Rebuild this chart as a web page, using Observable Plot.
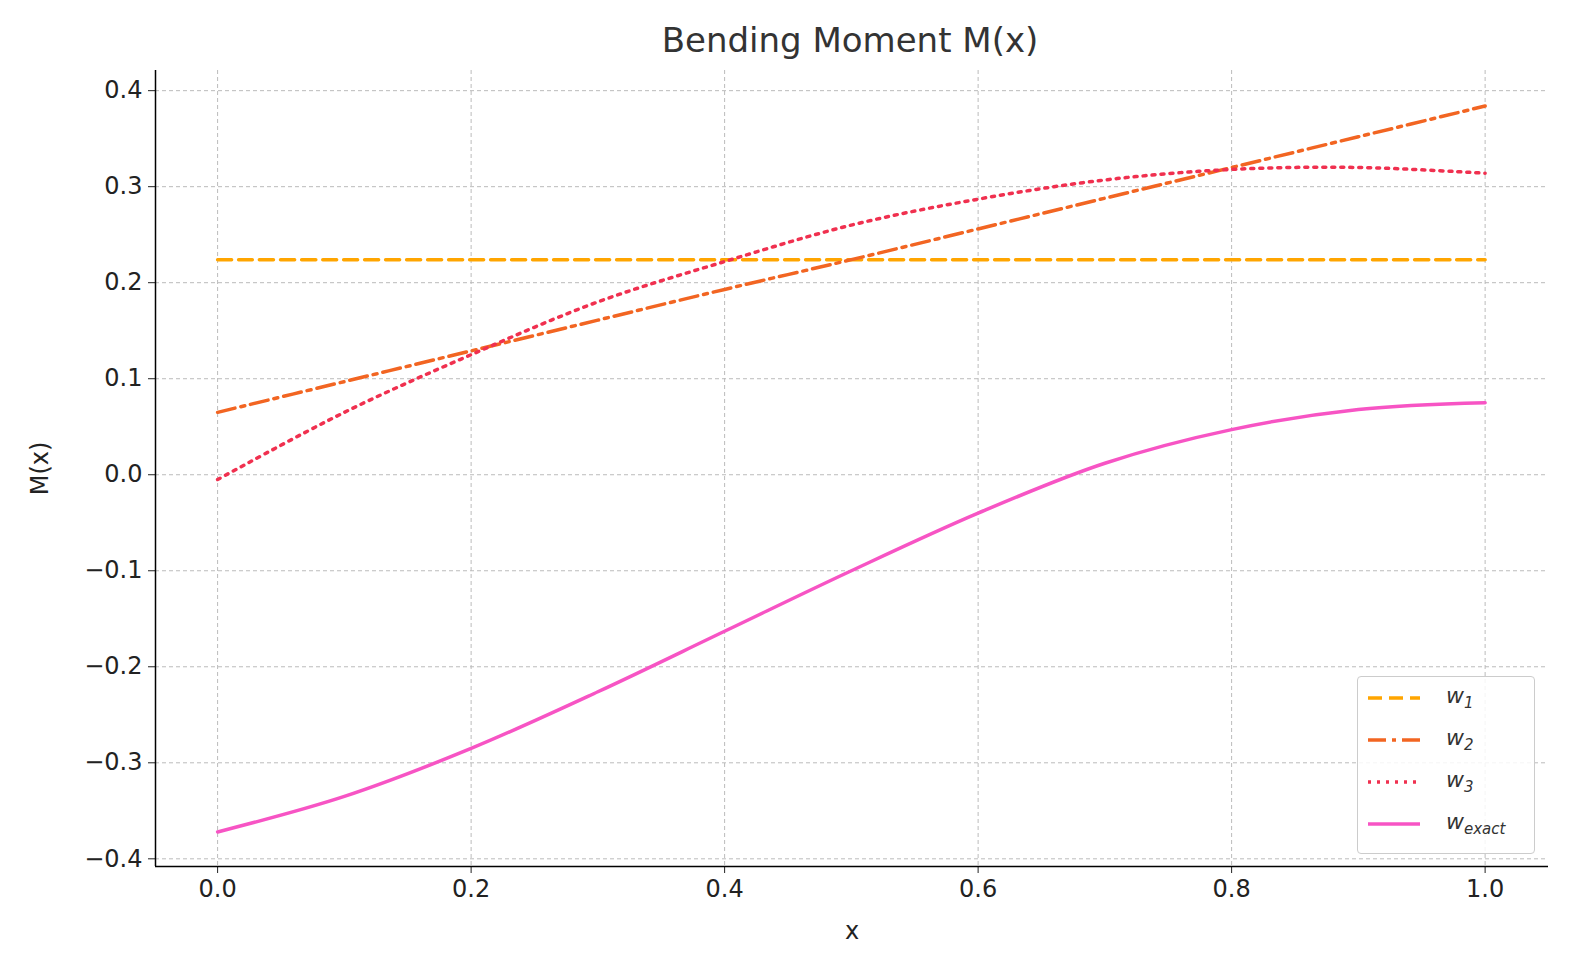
<!DOCTYPE html>
<html><head><meta charset="utf-8">
<script src="https://cdn.jsdelivr.net/npm/d3@7"></script>
<script src="https://cdn.jsdelivr.net/npm/@observablehq/plot@0.6"></script>
<style>
html,body{margin:0;background:#fff;font-family:"DejaVu Sans",sans-serif;overflow:hidden;}
#wrap{position:relative;width:1580px;}
#title{height:60px;text-align:center;font-size:34px;color:#333;line-height:80px;padding-left:120px;}
#legend{position:absolute;left:1357px;top:676px;width:176px;height:176px;border:1px solid #ccc;border-radius:4px;background:rgba(255,255,255,0.85);font-size:22px;font-style:italic;color:#333;}
#legend div{height:42px;display:flex;align-items:center;}
#legend svg{margin:0 26px 0 10px;}
sub{font-size:15px;}
</style></head>
<body><div id="wrap"><div id="title">Bending Moment M(x)</div><div id="chart"></div>
<div id="legend"></div></div>
<script>
const xs = [0, 0.1, 0.2, 0.3, 0.4, 0.5, 0.6, 0.7, 0.8, 0.9, 1.0]
const w1 = [0.224, 0.224, 0.224, 0.224, 0.224, 0.224, 0.224, 0.224, 0.224, 0.224, 0.224]
const w2 = [0.065, 0.097, 0.129, 0.161, 0.193, 0.224, 0.256, 0.288, 0.320, 0.352, 0.384]
const w3 = [-0.005, 0.065, 0.125, 0.180, 0.222, 0.260, 0.287, 0.307, 0.318, 0.320, 0.314]
const wExact = [-0.372, -0.335, -0.285, -0.226, -0.163, -0.100, -0.040, 0.012, 0.047, 0.068, 0.075]
const yTicks = [-0.4, -0.3, -0.2, -0.1, 0, 0.1, 0.2, 0.3, 0.4]
const xTicks = [0, 0.2, 0.4, 0.6, 0.8, 1.0]

const series = [
  {name: "1", vals: w1, color: "#ffa500", dash: "14,7"},
  {name: "2", vals: w2, color: "#f26522", dash: "18,6,4,6"},
  {name: "3", vals: w3, color: "#f0304f", dash: "3,6"},
  {name: "exact", vals: wExact, color: "#f754c4", dash: null}
]

const marks = [
  Plot.gridX(xTicks, {stroke: "#bbb", strokeOpacity: 1, strokeDasharray: "4,3"}),
  Plot.gridY(yTicks, {stroke: "#bbb", strokeOpacity: 1, strokeDasharray: "4,3"}),
  Plot.axisX(xTicks, {tickFormat: ".1f", fontSize: 24, tickSize: 7, tickPadding: 6, label: "x", labelAnchor: "center", labelArrow: "none", labelOffset: 72}),
  Plot.axisY(yTicks, {tickFormat: ".1f", fontSize: 24, tickSize: 7, tickPadding: 6, label: "M(x)", labelAnchor: "center", labelArrow: "none", labelOffset: 125}),
  Plot.ruleY([-0.408], {stroke: "#000", strokeWidth: 1.5}),
  Plot.ruleX([-0.049], {stroke: "#000", strokeWidth: 1.5})
]
series.forEach(s => {
  marks.push(Plot.line(xs.map((x, i) => ({x, y: s.vals[i]})), {
    x: "x", y: "y", stroke: s.color, strokeWidth: 3.5, curve: "catmull-rom",
    strokeDasharray: s.dash
  }))
})

const chart = Plot.plot({
  width: 1580, height: 900,
  marginTop: 10, marginLeft: 155, marginRight: 32, marginBottom: 94,
  style: {fontSize: "24px", color: "#222", fontFamily: "DejaVu Sans"},
  x: {domain: [-0.049, 1.05]},
  y: {domain: [-0.408, 0.421]},
  marks
})
document.getElementById("chart").append(chart)

const leg = d3.select("#legend")
series.forEach(s => {
  const row = leg.append("div")
  row.append("svg").attr("width", 52).attr("height", 10)
    .append("line").attr("x1", 0).attr("x2", 52).attr("y1", 5).attr("y2", 5)
    .attr("stroke", s.color).attr("stroke-width", 3.5).attr("stroke-dasharray", s.dash)
  row.append("span").html(`w<sub>${s.name}</sub>`)
})
</script></body></html>
